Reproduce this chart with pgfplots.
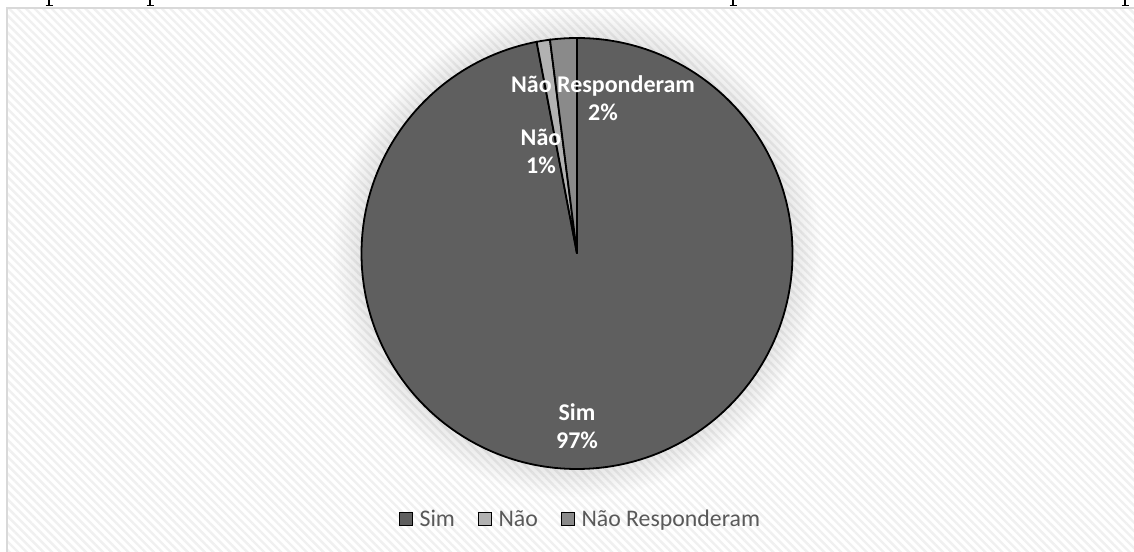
\documentclass[border=0pt]{standalone}
\usepackage{pgfplots}
\pgfplotsset{compat=1.18}
\usepackage{fontspec}
\setmainfont{Carlito}
\usetikzlibrary{patterns.meta}

\definecolor{simc}{HTML}{5F5F5F}
\definecolor{naoc}{HTML}{B2B2B2}
\definecolor{nrc}{HTML}{8A8A8A}
\definecolor{legtext}{HTML}{595959}
\definecolor{hatchc}{HTML}{F0F0F0}
\definecolor{framec}{HTML}{D9D9D9}

% shares in percent
\def\vSim{97}
\def\vNao{1}
\def\vNR{2}

\begin{document}
\begin{tikzpicture}
% slice angles, clockwise from twelve o'clock
\pgfmathsetmacro\aA{90}
\pgfmathsetmacro\aB{\aA-3.6*\vSim}
\pgfmathsetmacro\aC{\aB-3.6*\vNao}
\pgfmathsetmacro\aD{\aC-3.6*\vNR}
\def\R{107.75pt}
\begin{axis}[
  scale only axis, width=567pt, height=275.5pt,
  xmin=0, xmax=1134, ymin=0, ymax=551,
  hide axis, clip=true,
  legend columns=-1,
  legend style={draw=none, fill=none, at={(axis cs:581,31)}, anchor=center,
    font=\fontsize{11.9}{14}\selectfont, text=legtext,
    /tikz/every even column/.append style={column sep=10pt},
    nodes={inner sep=1.5pt}},
  legend image code/.code={%
    \draw[#1] (0pt,-2.9pt) rectangle (6.5pt,3.6pt);
    \path[draw=none, fill=none] (0pt,0pt) rectangle (8.5pt,0.1pt);},
]
% background and frame
\fill[white] (axis cs:-10,-10) rectangle (axis cs:1150,560);
\fill[pattern={Lines[angle=-45,distance=3pt,line width=1.2pt]}, pattern color=hatchc]
  (axis cs:7,-10) rectangle (axis cs:1150,543);
\draw[framec, line width=1pt] (axis cs:7,-10) -- (axis cs:7,543) -- (axis cs:1150,543);
% tails of the serif line above the chart
\pgfplotsinvokeforeach{49,150,733,1125}{
  \draw[black, line width=0.7pt] (axis cs:#1,551) -- (axis cs:#1,546);
  \draw[black, line width=0.6pt] (axis cs:#1-3.5,545.8) -- (axis cs:#1+3.5,545.8);
}
% soft halo round the pie
\pgfplotsinvokeforeach{108,109.25,...,122}{
  \fill[black, opacity=0.008] (axis cs:577,297.5) circle[radius=#1pt];
}
% slices
\fill[simc, draw=black, line width=0.9pt] (axis cs:577,297.5) -- ++(\aA:\R)
  arc[start angle=\aA, end angle=\aB, radius=\R] -- cycle;
\fill[naoc, draw=black, line width=0.9pt] (axis cs:577,297.5) -- ++(\aB:\R)
  arc[start angle=\aB, end angle=\aC, radius=\R] -- cycle;
\fill[nrc, draw=black, line width=0.9pt] (axis cs:577,297.5) -- ++(\aC:\R)
  arc[start angle=\aC, end angle=\aD, radius=\R] -- cycle;
% data labels
\tikzset{lbl/.style={text=white, align=center, inner sep=0pt,
  font=\bfseries\fontsize{12}{14}\selectfont}}
\node[lbl] at (axis cs:577,125) {Sim\\97\%};
\node[lbl] at (axis cs:603,453) {Não Responderam\\2\%};
\node[lbl] at (axis cs:541,400) {Não\\1\%};
% legend
\addlegendimage{fill=simc, draw=black, line width=0.6pt}
\addlegendentry{Sim}
\addlegendimage{fill=naoc, draw=black, line width=0.6pt}
\addlegendentry{Não}
\addlegendimage{fill=nrc, draw=black, line width=0.6pt}
\addlegendentry{Não Responderam}
\end{axis}
\end{tikzpicture}
\end{document}
